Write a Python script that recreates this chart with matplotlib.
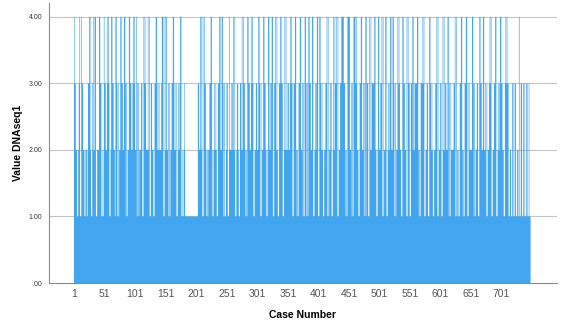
import matplotlib
matplotlib.use("Agg")
import matplotlib.pyplot as plt
import numpy as np

# DNA sequence coded 1-4 (one value per case), written in blocks of 50 cases
seq_blocks = [
    "4332211234" "1143322121" "2213344211" "3242441122" "2443311214",
    "3322434311" "2443322144" "3131224433" "2244313122" "4433223434",
    "2241331222" "3311434322" "2424113322" "1133442323" "2223441412",
    "4422313122" "3344232311" "2323441121" "2311111111" "1111111111",
    "1113322442" "1414332121" "2233441212" "3232113344" "2244313112",
    "3311422233" "2424112332" "1133242433" "2121443322" "4343112233",
    "2244313122" "4433212144" "2323441133" "4242113344" "3311242422",
    "3322434311" "3344212133" "4422313144" "3131443322" "4411232344",
    "1144323211" "2233414122" "3311242433" "4141223344" "4433212144",
    "4422313144" "4343221133" "4422313414" "3311424233" "3344212144",
    "2233414122" "4411232344" "2244313122" "4343221144" "3322141433",
    "1133424233" "3344212133" "3434112233" "1144323211" "2233414122",
    "3311424233" "2244131322" "2233414122" "1133442121" "3344131322",
    "2244313122" "3311434322" "4422313122" "3434112233" "4411232344",
    "3322113434" "3311221133" "1133112214" "1133113311" "13311311",
]
values = np.array([int(c) for c in "".join(seq_blocks)])
cases = np.arange(1, len(values) + 1)

x_ticks = list(range(1, 702, 50))
y_ticks = [0, 1, 2, 3, 4]
y_tick_labels = [".00", "1.00", "2.00", "3.00", "4.00"]

fig = plt.figure(figsize=(5.63, 3.30), dpi=100)
ax = fig.add_axes([0.087, 0.1424, 0.902, 0.849])

# one bar per case, each one case wide, drawn as a filled step outline
edges = np.append(cases - 0.5, cases[-1] + 0.5)
ax.stairs(values, edges, baseline=0, fill=True, color="#42a5f0",
          linewidth=0, zorder=2)

ax.set_xlim(-40.4, 791.5)
ax.set_ylim(0, 4.21)

ax.set_yticks(y_ticks)
ax.set_yticklabels(y_tick_labels)
ax.set_xticks(x_ticks)
ax.set_xticklabels([str(t) for t in x_ticks])

for y in [1, 2, 3, 4]:
    ax.axhline(y, color="#c4c4c4", linewidth=0.8, zorder=1)

for side in ["top", "right"]:
    ax.spines[side].set_visible(False)
for side in ["left", "bottom"]:
    ax.spines[side].set_color("#8a8a8a")
    ax.spines[side].set_linewidth(0.8)

ax.tick_params(axis="both", length=0)
ax.tick_params(axis="y", labelsize=5, labelcolor="#333333", pad=5)
ax.tick_params(axis="x", labelsize=7.5, labelcolor="#555555", pad=4)
for lab in ax.get_xticklabels() + ax.get_yticklabels():
    lab.set_fontfamily("Liberation Sans")

ax.set_xlabel("Case Number", fontsize=7.5, fontweight="bold",
              fontfamily="Liberation Sans", labelpad=8)
ax.set_ylabel("Value DNAseq1", fontsize=7.5, fontweight="bold",
              fontfamily="Liberation Sans", labelpad=4)

fig.savefig("out.png", dpi=100)
